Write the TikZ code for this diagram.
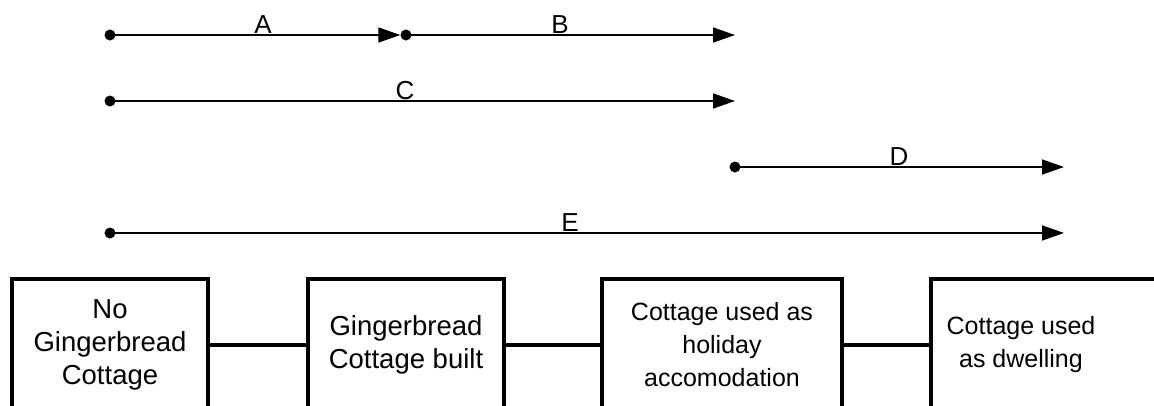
\documentclass[tikz,border=0pt]{standalone}
\usepackage{fontspec}
\setmainfont{Liberation Sans}
\usetikzlibrary{arrows.meta}
\begin{document}
\begin{tikzpicture}[x=1pt,y=-1pt,
  dot/.style={circle,fill=black,inner sep=0pt,minimum size=11pt},
  arr/.style={line width=1.6pt,-{Triangle[length=22pt,width=15pt]}},
  lbl/.style={anchor=base,inner sep=0pt,font=\fontsize{26}{30}\selectfont},
  box/.style={draw,line width=4.5pt,rectangle,minimum width=196pt,minimum height=132pt,align=center,inner sep=0pt},
  big/.style={font=\fontsize{27.5}{33}\selectfont},
  small/.style={font=\fontsize{25}{33}\selectfont},
  conn/.style={line width=4.5pt}]
\useasboundingbox (0,0) rectangle (1154,405);
\clip (0,0) rectangle (1154,405);
% timeline arrows
\node[dot] (a0) at (110,35) {};
\node[dot] (b0) at (406,35) {};
\coordinate (b1) at (735,35);
\node[dot] (c0) at (110,101) {};
\coordinate (c1) at (735,101);
\node[dot] (d0) at (735,167) {};
\coordinate (d1) at (1064,167);
\node[dot] (e0) at (110,233) {};
\coordinate (e1) at (1064,233);
\draw[arr] (a0.center) -- (b0.west);
\draw[arr] (b0.center) -- (b1);
\draw[arr] (c0.center) -- (c1);
\draw[arr] (d0.center) -- (d1);
\draw[arr] (e0.center) -- (e1);
\node[lbl] (la) at (263,33) {A};
\node[lbl] (lb) at (560,33) {B};
\node[lbl] (lc) at (405,99) {C};
\node[lbl] (ld) at (899,165) {D};
\node[lbl] (le) at (570,231) {E};
% boxes
\node[box,big] (s1) at (110,345) {\raisebox{-3pt}{\begin{tabular}{@{}c@{}}No\\Gingerbread\\Cottage\end{tabular}}};
\node[box,big] (s2) at (406,345) {Gingerbread\\Cottage built};
\node[box,small,minimum width=240pt] (s3) at (722,345) {Cottage used as\\holiday\\accomodation};
\node[box,minimum width=260pt] (s4) at (1061,345) {};
\node[small,align=center,inner sep=0pt] (t4) at (1021,345) {Cottage used\\as dwelling};
\draw[conn] (s1.east) -- (s2.west);
\draw[conn] (s2.east) -- (s3.west);
\draw[conn] (s3.east) -- (s4.west);
\end{tikzpicture}
\end{document}
